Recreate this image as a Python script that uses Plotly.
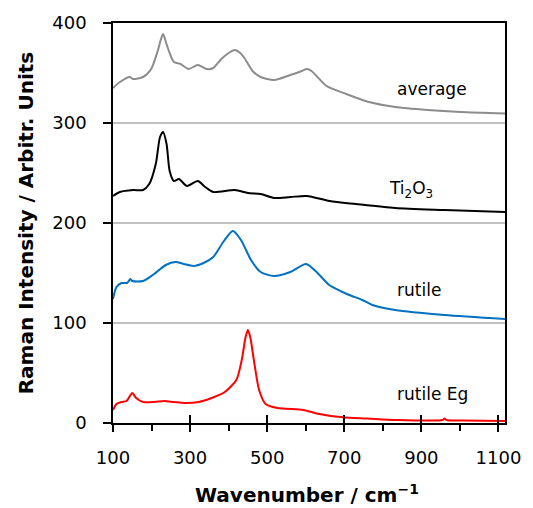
import plotly.graph_objects as go

# ---- data ----
avg_x = [100, 118, 143, 152, 178, 199, 216, 223, 230, 238, 245, 258, 275, 296, 320, 343, 360, 381,
         400, 416, 430, 441, 462, 483, 518, 560, 590, 603, 615, 628, 654, 705, 764, 832, 916, 1002, 1117]
avg_y = [335, 341, 346, 344, 346, 354, 372, 382, 389, 380, 372, 361, 359, 354, 358, 354, 355, 364,
         370, 373, 370, 365, 352, 346, 343, 348, 352, 354, 352, 347, 337, 329, 321, 316, 313, 311, 309.5]

ti_x = [100, 118, 152, 178, 194, 211, 222, 230, 239, 247, 258, 271, 292, 320, 339, 360, 416, 450,
        483, 518, 560, 603, 662, 730, 832, 960, 1117]
ti_y = [227, 231, 233, 233, 239, 259, 286, 291, 279, 252, 242, 244, 237, 242, 236, 231, 233, 230,
        229, 225, 226, 227, 222, 219, 215, 213, 211]

ru_x = [100, 109, 122, 136, 141, 145, 150, 178, 203, 237, 262, 284, 309, 335, 360, 386, 411, 432,
        458, 483, 518, 560, 601, 628, 661, 690, 713, 747, 773, 832, 960, 1117]
ru_y = [124, 136, 140, 140, 142, 144, 142, 142, 148, 158, 161, 159, 157, 160, 166, 181, 192, 183,
        163, 151, 147, 151, 159, 151, 138, 132, 128, 123, 118, 113, 108, 104]

eg_x = [100, 109, 122, 135, 150, 160, 178, 207, 233, 258, 288, 322, 356, 390, 420, 434, 444, 450,
        456, 467, 479, 496, 526, 594, 628, 696, 760, 832, 955, 960, 965, 1002, 1117]
eg_y = [13, 19, 21, 22, 30, 25, 21, 21, 22, 21, 20, 21, 25, 31, 43, 63, 86, 93,
        86, 59, 33, 19, 15, 13, 9.6, 5.7, 4.5, 3, 3, 4.5, 3, 2.5, 2]

labels = ["average", "Ti<sub>2</sub>O<sub>3</sub>", "rutile", "rutile Eg"]
label_x = [832, 812, 832, 832]
label_y = [334, 234, 133, 29]

x_major = [100, 300, 500, 700, 900, 1100]
y_ticks = [0, 100, 200, 300, 400]

series = [
    (avg_x, avg_y, "#8c8c8c"),
    (ti_x, ti_y, "#000000"),
    (ru_x, ru_y, "#0070c0"),
    (eg_x, eg_y, "#ff0000"),
]

fig = go.Figure()
for xs, ys, col in series:
    fig.add_trace(go.Scatter(x=xs, y=ys, mode="lines",
                             line=dict(color=col, width=2, shape="spline", smoothing=0.7),
                             showlegend=False, hoverinfo="skip"))
# invisible trace for the overlay axis (inside ticks)
fig.add_trace(go.Scatter(x=[100, 1117], y=[0, 0], xaxis="x2", mode="lines",
                         line=dict(width=0), showlegend=False, hoverinfo="skip"))

XR = [100, 1117]
tick_font = dict(family="DejaVu Sans", size=18, color="#000000")

fig.update_layout(
    width=533, height=508,
    margin=dict(l=113, r=20, t=22, b=85),
    paper_bgcolor="white", plot_bgcolor="white",
    xaxis=dict(range=XR, tickvals=x_major, ticks="outside", ticklen=7, tickwidth=1.5,
               tickcolor="black", showline=True, linecolor="black", linewidth=1.5,
               mirror=True, showgrid=False, zeroline=False, tickfont=tick_font,
               ticklabelstandoff=11,
               minor=dict(tickvals=[200, 400, 600, 800, 1000], ticks="outside",
                          ticklen=6, tickwidth=1.5, tickcolor="black", showgrid=False)),
    xaxis2=dict(range=XR, overlaying="x", matches="x", tickvals=x_major, ticks="inside",
                ticklen=8, tickwidth=1.5, tickcolor="black", showticklabels=False,
                showline=False, showgrid=False, zeroline=False),
    yaxis=dict(range=[0, 400], tickvals=y_ticks, ticks="outside", ticklen=8, tickwidth=1.5,
               tickcolor="black", showline=True, linecolor="black", linewidth=1.5,
               mirror=True, showgrid=True, gridcolor="#c0c0c0", gridwidth=1.5,
               zeroline=False, tickfont=tick_font, ticklabelstandoff=13),
)

for t, lx, ly in zip(labels, label_x, label_y):
    fig.add_annotation(x=lx, y=ly, text=t, showarrow=False, xanchor="left", yanchor="middle",
                       font=dict(family="DejaVu Sans", size=17, color="#000000"))

fig.add_annotation(xref="paper", yref="paper", x=(311 - 113) / 400, y=(423 - 494) / 401,
                   text="Wavenumber / cm<sup>\u22121</sup>", showarrow=False,
                   xanchor="center", yanchor="middle",
                   font=dict(family="DejaVu Sans", size=20, color="#000000", weight="bold"))
fig.add_annotation(xref="paper", yref="paper", x=(24 - 113) / 400, y=(423 - 222) / 401,
                   text="Raman Intensity / Arbitr. Units", showarrow=False, textangle=-90,
                   xanchor="center", yanchor="middle",
                   font=dict(family="DejaVu Sans", size=20, color="#000000", weight="bold"))

fig.write_html("out.html")
